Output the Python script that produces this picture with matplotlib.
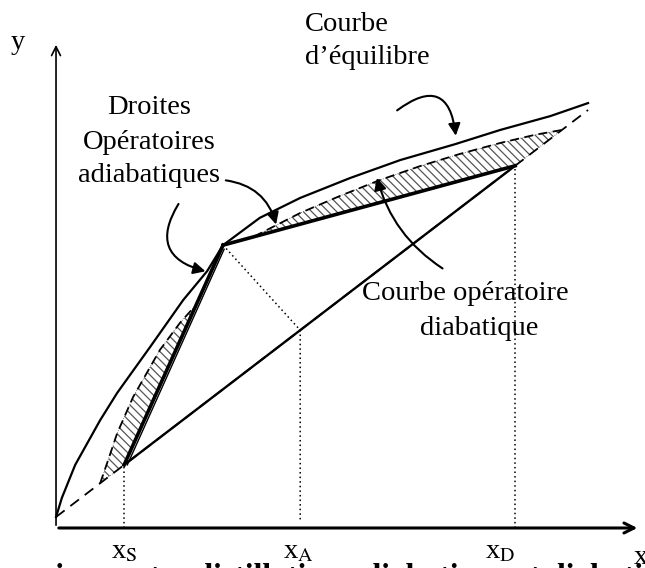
import numpy as np
import matplotlib
matplotlib.use("Agg")
import matplotlib.pyplot as plt
from matplotlib.patches import FancyArrowPatch

plt.rcParams['font.family'] = ['Liberation Serif', 'DejaVu Serif']
plt.rcParams['mathtext.fontset'] = 'stix'
plt.rcParams['hatch.linewidth'] = 0.9
plt.rcParams['hatch.color'] = '#444444'

# schematic data (x, y in units where the diagonal is y = x)
eq_x = [0.0, 0.011, 0.036, 0.083, 0.115, 0.177, 0.239, 0.284, 0.314, 0.383, 0.459,
        0.553, 0.647, 0.750, 0.835, 0.929, 1.0]
eq_y = [0.0, 0.047, 0.128, 0.238, 0.305, 0.418, 0.533, 0.604, 0.668, 0.735, 0.784,
        0.833, 0.877, 0.916, 0.951, 0.985, 1.017]

x_S, x_A, x_D = 0.128, 0.459, 0.863
pinch = (0.314, 0.668)

# diabatic operating curve, upper (rectifying) part
up_x = [0.372, 0.459, 0.534, 0.609, 0.684, 0.759, 0.835, 0.900, 0.951]
up_y = [0.689, 0.747, 0.789, 0.828, 0.862, 0.892, 0.919, 0.939, 0.951]
# diabatic operating curve, lower (stripping) part
lo_x = [0.083, 0.098, 0.115, 0.145, 0.195, 0.233, 0.261]
lo_y = [0.083, 0.140, 0.206, 0.295, 0.410, 0.477, 0.518]

fig = plt.figure(figsize=(6.45, 5.68), dpi=100)
ax = fig.add_axes([0, 0, 1, 1])
ax.set_xlim(-0.1053, 1.1071)
ax.set_ylim(-0.1253, 1.2703)
ax.axis('off')

x0 = -0.027  # level of the x axis
# axes with arrows
ax.annotate('', xy=(1.098, x0), xytext=(0, x0),
            arrowprops=dict(arrowstyle='->', lw=2.2, color='black', mutation_scale=18))
ax.annotate('', xy=(0, 1.167), xytext=(0, x0),
            arrowprops=dict(arrowstyle='->', lw=1.2, color='black', mutation_scale=16))

# hatched regions
ax.fill(up_x + [x_D, pinch[0]], up_y + [x_D, pinch[1]], facecolor='white',
        edgecolor='#555555', hatch='\\\\\\\\', lw=0.6, ls=':')
ax.fill(lo_x + [x_S], lo_y + [x_S], facecolor='white',
        edgecolor='#555555', hatch='\\\\\\\\', lw=0.6, ls=':')

# equilibrium curve
ax.plot(eq_x, eq_y, color='black', lw=1.6)
# diagonal
ax.plot([0, 1.0], [0, 1.0], color='black', lw=1.3, ls=(0, (6, 4)))
ax.plot([x_S, x_D], [x_S, x_D], color='black', lw=1.7)
# diabatic curve
ax.plot(up_x, up_y, color='black', lw=1.3, ls=(0, (5, 3)))
ax.plot(lo_x, lo_y, color='black', lw=1.3, ls=(0, (5, 3)))
# adiabatic operating lines
ax.plot([x_S, pinch[0]], [x_S, pinch[1]], color='black', lw=2.6)
ax.plot([x_S + 0.006, pinch[0] + 0.002], [x_S, pinch[1] - 0.01], color='black', lw=1.0)
ax.plot([pinch[0], x_D], [pinch[1], x_D], color='black', lw=2.6)

# dotted construction lines
dot = dict(color='black', lw=1.1, ls=(0, (1, 2)))
ax.plot([x_S, x_S], [x0, x_S], **dot)
ax.plot([x_D, x_D], [x0, x_D], **dot)
ax.plot([pinch[0], x_A, x_A], [pinch[1], x_A, x0 + 0.015], **dot)

# curved annotation arrows
def carrow(tail, tip, rad):
    ax.add_patch(FancyArrowPatch(tail, tip, connectionstyle=f'arc3,rad={rad}',
                                 arrowstyle='-|>', mutation_scale=18, lw=1.5,
                                 color='black'))

carrow((0.637, 0.995), (0.752, 0.930), -0.9)
carrow((0.314, 0.828), (0.415, 0.712), -0.35)
carrow((0.233, 0.775), (0.286, 0.602), 0.7)
carrow((0.731, 0.607), (0.602, 0.840), -0.2)

fs = 20.5
ax.text(0.468, 1.209, 'Courbe', fontsize=fs, ha='left', va='center')
ax.text(0.468, 1.128, 'd\u2019\u00e9quilibre', fontsize=fs, ha='left', va='center')
ax.text(0.175, 1.005, 'Droites', fontsize=fs, ha='center', va='center')
ax.text(0.175, 0.921, 'Op\u00e9ratoires', fontsize=fs, ha='center', va='center')
ax.text(0.175, 0.840, 'adiabatiques', fontsize=fs, ha='center', va='center')
ax.text(0.769, 0.550, 'Courbe op\u00e9ratoire', fontsize=fs, ha='center', va='center')
ax.text(0.795, 0.464, 'diabatique', fontsize=fs, ha='center', va='center')

ax.text(-0.071, 1.167, 'y', fontsize=fs, ha='center', va='center')
ax.text(1.100, -0.100, 'x', fontsize=fs, ha='center', va='center')
for xv, lab in [(x_S, 'x$_\\mathrm{S}$'), (x_A - 0.004, 'x$_\\mathrm{A}$'),
                (0.835, 'x$_\\mathrm{D}$')]:
    ax.text(xv, -0.086, lab, fontsize=fs, ha='center', va='center')

# caption, mostly cut off by the bottom edge
fig.text(-0.113, -0.030, 'Comparaison entre distillation adiabatique et diabatique',
         fontsize=22.8, fontweight='bold', ha='left', va='baseline')

fig.savefig('out.png', dpi=100)
